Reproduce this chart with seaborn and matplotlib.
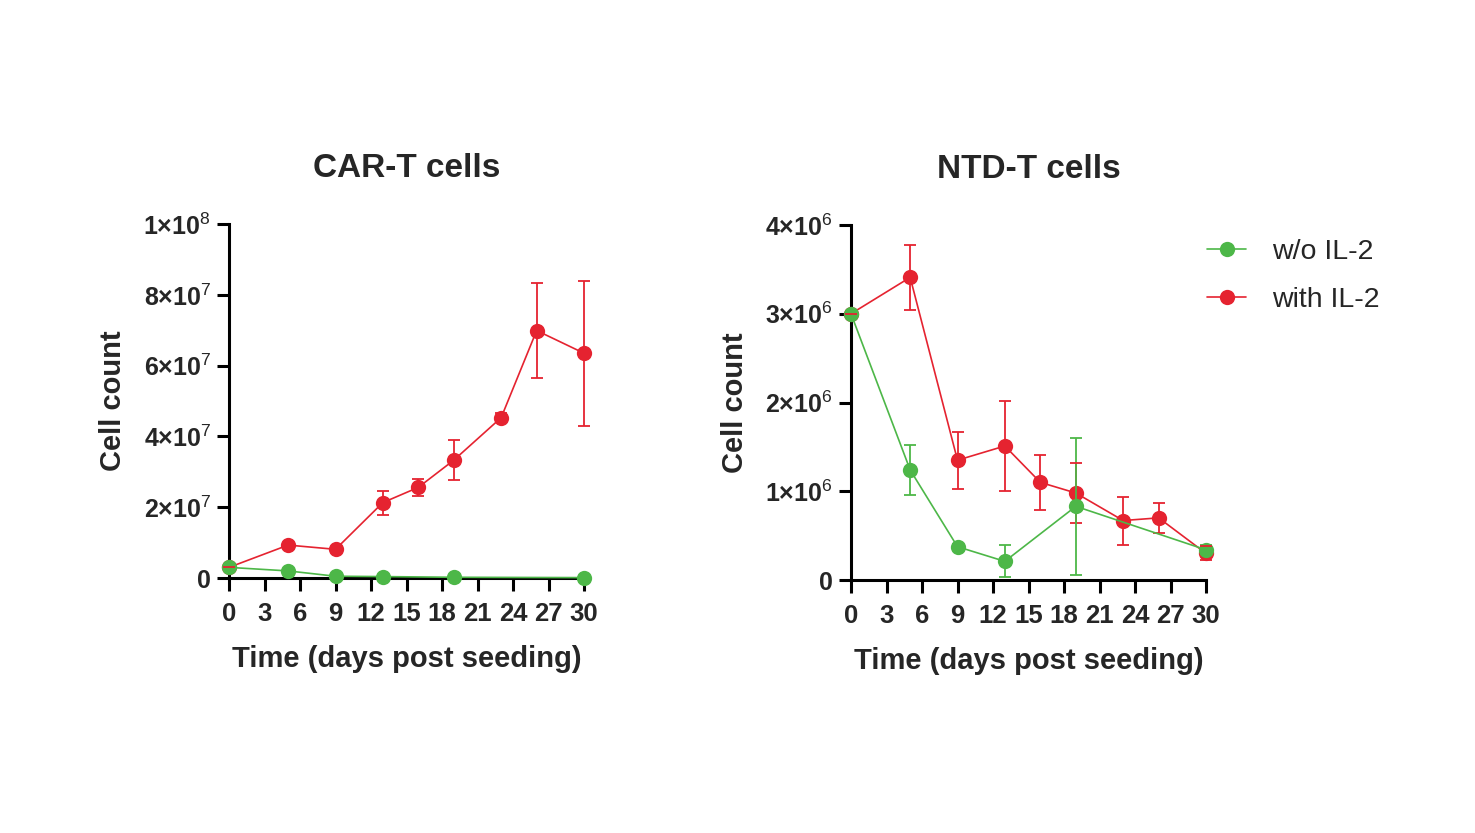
import numpy as np
import pandas as pd
import matplotlib
matplotlib.use("Agg")
import matplotlib.pyplot as plt
import seaborn as sns

sns.set_style("ticks")
plt.rcParams['font.family'] = ['Liberation Sans', 'DejaVu Sans']
plt.rcParams['mathtext.fontset'] = 'custom'
plt.rcParams['mathtext.rm'] = 'Liberation Sans'
plt.rcParams['mathtext.bf'] = 'Liberation Sans:bold'

GREEN = '#4DB748'
RED = '#E52330'

# CAR-T cells
car_red_days = [0, 5, 9, 13, 16, 19, 23, 26, 30]
car_red_mean = [3.0e6, 9.3e6, 8.1e6, 21.3e6, 25.6e6, 33.3e6, 45.3e6, 69.9e6, 63.5e6]
car_red_err = [0.0, 0.5e6, 0.5e6, 3.4e6, 2.3e6, 5.7e6, 1.3e6, 13.4e6, 20.5e6]
car_green_days = [0, 5, 9, 13, 19, 30]
car_green_mean = [3.0e6, 2.0e6, 0.5e6, 0.4e6, 0.2e6, 0.1e6]
car_green_err = [0.0, 0.2e6, 0.1e6, 0.1e6, 0.1e6, 0.05e6]

# NTD-T cells
ntd_red_days = [0, 5, 9, 13, 16, 19, 23, 26, 30]
ntd_red_mean = [3.0e6, 3.41e6, 1.35e6, 1.51e6, 1.10e6, 0.98e6, 0.67e6, 0.70e6, 0.30e6]
ntd_red_err = [0.0, 0.37e6, 0.32e6, 0.51e6, 0.31e6, 0.34e6, 0.27e6, 0.17e6, 0.08e6]
ntd_green_days = [0, 5, 9, 13, 19, 30]
ntd_green_mean = [3.0e6, 1.24e6, 0.375e6, 0.21e6, 0.83e6, 0.34e6]
ntd_green_err = [0.0, 0.28e6, 0.03e6, 0.18e6, 0.77e6, 0.05e6]

series_labels = ['w/o IL-2', 'with IL-2']
x_ticks = list(range(0, 31, 3))
car_yticks = [0, 2e7, 4e7, 6e7, 8e7, 1e8]
car_yticklabels = ['0', r'$\mathbf{2{\times}10}^{7}$', r'$\mathbf{4{\times}10}^{7}$',
                   r'$\mathbf{6{\times}10}^{7}$', r'$\mathbf{8{\times}10}^{7}$',
                   r'$\mathbf{1{\times}10}^{8}$']
ntd_yticks = [0, 1e6, 2e6, 3e6, 4e6]
ntd_yticklabels = ['0', r'$\mathbf{1{\times}10}^{6}$', r'$\mathbf{2{\times}10}^{6}$',
                   r'$\mathbf{3{\times}10}^{6}$', r'$\mathbf{4{\times}10}^{6}$']

fig = plt.figure(figsize=(14.75, 8.33), dpi=100)
ax1 = fig.add_axes([229/1475, 1-578/833, 355/1475, 354/833])
ax2 = fig.add_axes([851/1475, 1-580/833, 355/1475, 355/833])


def draw(ax, rd, rm, re, gd, gm, ge, yticks, yticklabels, ymax, title):
    df = pd.concat([
        pd.DataFrame({'day': rd, 'count': rm, 'group': series_labels[1]}),
        pd.DataFrame({'day': gd, 'count': gm, 'group': series_labels[0]}),
    ])
    for d, m, e, c, z in [(rd, rm, re, RED, 2), (gd, gm, ge, GREEN, 4)]:
        ax.errorbar(d, m, yerr=e, fmt='none', ecolor=c, elinewidth=1.3,
                    capsize=4.5, capthick=1.3, zorder=z, clip_on=False)
    sns.lineplot(data=df, x='day', y='count', hue='group',
                 hue_order=[series_labels[1], series_labels[0]],
                 palette={series_labels[0]: GREEN, series_labels[1]: RED},
                 marker='o', markersize=11, markeredgewidth=0, linewidth=1.2,
                 ax=ax, legend=False, clip_on=False, zorder=3)
    for ln, z in zip(ax.lines, [3, 5]):
        ln.set_zorder(z)
    ax.set_xlim(0, 30)
    ax.set_ylim(0, ymax)
    ax.set_xticks(x_ticks)
    ax.set_xticklabels([str(t) for t in x_ticks], fontsize=18.5, fontweight='bold')
    ax.set_yticks(yticks)
    ax.set_yticklabels(yticklabels, fontsize=18, fontweight='bold')
    ax.tick_params(axis='both', length=9, width=2.2, color='black')
    ax.tick_params(axis='x', pad=8)
    ax.tick_params(axis='y', pad=4)
    for s in ['top', 'right']:
        ax.spines[s].set_visible(False)
    for s in ['left', 'bottom']:
        ax.spines[s].set_linewidth(2.2)
        ax.spines[s].set_color('black')
    ax.set_xlabel('Time (days post seeding)', fontsize=21, fontweight='bold', labelpad=14)
    ax.set_ylabel('Cell count', fontsize=21, fontweight='bold', labelpad=12)
    ax.set_title(title, fontsize=24, fontweight='bold', pad=34)


draw(ax1, car_red_days, car_red_mean, car_red_err, car_green_days, car_green_mean,
     car_green_err, car_yticks, car_yticklabels, 1e8, 'CAR-T cells')
draw(ax2, ntd_red_days, ntd_red_mean, ntd_red_err, ntd_green_days, ntd_green_mean,
     ntd_green_err, ntd_yticks, ntd_yticklabels, 4e6, 'NTD-T cells')

from matplotlib.lines import Line2D
handles = [Line2D([], [], color=GREEN, marker='o', markersize=11, markeredgewidth=0, linewidth=1.2),
           Line2D([], [], color=RED, marker='o', markersize=11, markeredgewidth=0, linewidth=1.2)]
fig.legend(handles, series_labels, loc='upper left', bbox_to_anchor=(1181/1475, 1-213/833),
           frameon=False, fontsize=20.5, handlelength=1.4, handletextpad=0.9, labelspacing=0.8)

fig.savefig('out.png', dpi=100, facecolor='white')
